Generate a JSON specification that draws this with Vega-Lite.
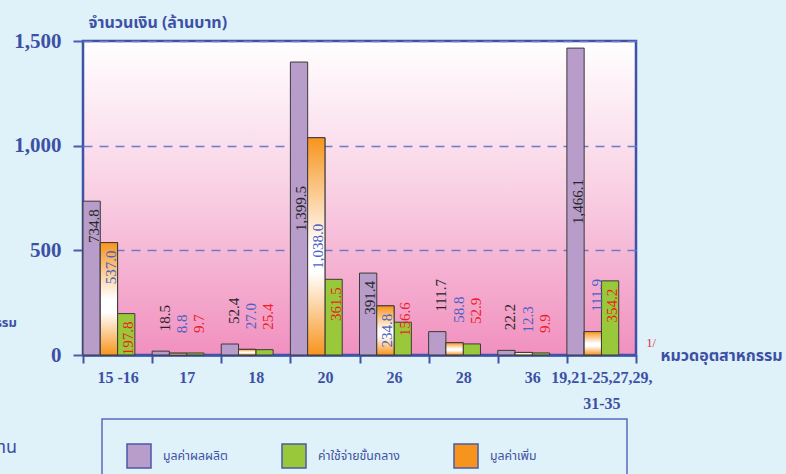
{
  "$schema": "https://vega.github.io/schema/vega-lite/v6.json",
  "width": 553,
  "height": 314,
  "autosize": {"type": "none"},
  "padding": {"left": 83, "top": 41, "right": 150, "bottom": 119},
  "background": "#dff1f9",
  "title": {
    "text": "หมวดอุตสาหกรรม",
    "subtitle": "ค่าจ้างแรงงาน",
    "orient": "top",
    "anchor": "start",
    "frame": "group",
    "align": "right",
    "baseline": "middle",
    "dx": -66,
    "dy": 453,
    "fontSize": 13,
    "fontWeight": "bold",
    "color": "#3c50a5",
    "subtitleFontSize": 18,
    "subtitleColor": "#3c50a5",
    "subtitlePadding": 112
  },
  "config": {
    "font": "Noto Sans Thai, Loma, Garuda, Noto Sans, sans-serif",
    "view": {
      "fill": {"gradient": "linear", "x1": 0, "y1": 0, "x2": 0, "y2": 1,
        "stops": [{"offset": 0, "color": "#ffffff"}, {"offset": 0.45, "color": "#f9d3e5"}, {"offset": 1, "color": "#f190bf"}]},
      "stroke": "#3e52a8",
      "strokeWidth": 2.5
    },
    "legend": {
      "orient": "none",
      "legendX": 19,
      "legendY": 378,
      "direction": "horizontal",
      "columns": 3,
      "symbolType": "square",
      "symbolSize": 576,
      "symbolStrokeColor": "#4a5aa8",
      "symbolStrokeWidth": 1.5,
      "symbolOpacity": 1,
      "labelFontSize": 12.3,
      "labelColor": "#3f51a3",
      "labelOffset": 11,
      "labelLimit": 0,
      "columnPadding": 51,
      "padding": 24,
      "strokeColor": "#5a6ac0",
      "strokeWidth": 1.5,
      "titleOrient": "right",
      "titlePadding": 66
    }
  },
  "data": {
    "values": [
      {"cat": "15 -16", "series": "มูลค่าผลผลิต", "value": 734.8},
      {"cat": "15 -16", "series": "มูลค่าเพิ่ม", "value": 537.0},
      {"cat": "15 -16", "series": "ค่าใช้จ่ายขั้นกลาง", "value": 197.8},
      {"cat": "17", "series": "มูลค่าผลผลิต", "value": 18.5},
      {"cat": "17", "series": "มูลค่าเพิ่ม", "value": 8.8},
      {"cat": "17", "series": "ค่าใช้จ่ายขั้นกลาง", "value": 9.7},
      {"cat": "18", "series": "มูลค่าผลผลิต", "value": 52.4},
      {"cat": "18", "series": "มูลค่าเพิ่ม", "value": 27.0},
      {"cat": "18", "series": "ค่าใช้จ่ายขั้นกลาง", "value": 25.4},
      {"cat": "20", "series": "มูลค่าผลผลิต", "value": 1399.5},
      {"cat": "20", "series": "มูลค่าเพิ่ม", "value": 1038.0},
      {"cat": "20", "series": "ค่าใช้จ่ายขั้นกลาง", "value": 361.5},
      {"cat": "26", "series": "มูลค่าผลผลิต", "value": 391.4},
      {"cat": "26", "series": "มูลค่าเพิ่ม", "value": 234.8},
      {"cat": "26", "series": "ค่าใช้จ่ายขั้นกลาง", "value": 156.6},
      {"cat": "28", "series": "มูลค่าผลผลิต", "value": 111.7},
      {"cat": "28", "series": "มูลค่าเพิ่ม", "value": 58.8},
      {"cat": "28", "series": "ค่าใช้จ่ายขั้นกลาง", "value": 52.9},
      {"cat": "36", "series": "มูลค่าผลผลิต", "value": 22.2},
      {"cat": "36", "series": "มูลค่าเพิ่ม", "value": 12.3},
      {"cat": "36", "series": "ค่าใช้จ่ายขั้นกลาง", "value": 9.9},
      {"cat": "19,21-25,27,29,31-35", "series": "มูลค่าผลผลิต", "value": 1466.1},
      {"cat": "19,21-25,27,29,31-35", "series": "มูลค่าเพิ่ม", "value": 111.9},
      {"cat": "19,21-25,27,29,31-35", "series": "ค่าใช้จ่ายขั้นกลาง", "value": 354.2}
    ]
  },
  "encoding": {
    "x": {
      "field": "cat", "type": "nominal",
      "sort": ["15 -16", "17", "18", "20", "26", "28", "36", "19,21-25,27,29,31-35"],
      "scale": {"paddingInner": 0, "paddingOuter": 0},
      "axis": {
        "title": "หมวดอุตสาหกรรม",
        "tickBand": "extent",
        "tickSize": 8,
        "tickWidth": 2,
        "tickColor": "#3e52a8",
        "domainColor": "#3e52a8",
        "domainWidth": 2.5,
        "labelAngle": 0,
        "labelFont": "Liberation Serif",
        "labelFontSize": 16,
        "labelFontWeight": "bold",
        "labelColor": "#3c50a5",
        "labelPadding": 6,
        "labelLimit": 0,
        "labelLineHeight": 26,
        "labelExpr": "datum.value == '19,21-25,27,29,31-35' ? ['19,21-25,27,29,', '31-35'] : datum.label",
        "titleX": 577,
        "titleY": 0,
        "titleAlign": "left",
        "titleBaseline": "middle",
        "titleFontSize": 16,
        "titleFontWeight": "bold",
        "titleColor": "#3c50a5"
      }
    },
    "xOffset": {
      "field": "series", "type": "nominal",
      "scale": {"domain": ["มูลค่าผลผลิต", "มูลค่าเพิ่ม", "ค่าใช้จ่ายขั้นกลาง", "_"], "paddingInner": 0, "paddingOuter": 0}
    }
  },
  "resolve": {"scale": {"y": "independent", "color": "independent"}},
  "layer": [
    {
      "mark": {"type": "bar", "stroke": "#3a3a3a", "strokeWidth": 1},
      "encoding": {
        "y": {
          "field": "value", "type": "quantitative",
          "scale": {"domain": [0, 1500], "nice": false},
          "axis": {
            "title": "จำนวนเงิน (ล้านบาท)",
            "values": [0, 500, 1000, 1500],
            "format": ",.0f",
            "labelFont": "Liberation Serif",
            "labelFontSize": 21,
            "labelFontWeight": "bold",
            "labelColor": "#3c50a5",
            "labelPadding": 12,
            "tickSize": 10,
            "tickColor": "#4a5cb0",
            "tickWidth": 2,
            "domain": false,
            "grid": true,
            "gridColor": "#6a7bc9",
            "gridDash": [9, 7],
            "gridWidth": 1.3,
            "titleAngle": 0,
            "titleX": 5,
            "titleY": -19,
            "titleAlign": "left",
            "titleBaseline": "middle",
            "titleFontSize": 16,
            "titleFontWeight": "bold",
            "titleColor": "#3c50a5"
          }
        },
        "color": {
          "field": "series", "type": "nominal",
          "scale": {"domain": ["มูลค่าผลผลิต", "ค่าใช้จ่ายขั้นกลาง", "มูลค่าเพิ่ม"], "range": ["#b89cc9", "#99c93b", "#f7941d"]},
          "legend": {"title": " "}
        }
      }
    },
    {
      "transform": [{"filter": "datum.series == 'มูลค่าเพิ่ม'"}],
      "mark": {"type": "bar", "stroke": "#3a3a3a", "strokeWidth": 1,
        "fill": {"gradient": "linear", "x1": 0, "y1": 0, "x2": 0, "y2": 1,
          "stops": [{"offset": 0, "color": "#f7941d"}, {"offset": 0.5, "color": "#ffffff"}, {"offset": 0.62, "color": "#ffffff"}, {"offset": 1, "color": "#f7941d"}]}},
      "encoding": {
        "y": {"field": "value", "type": "quantitative", "scale": {"domain": [0, 1500], "nice": false}, "axis": null}
      }
    },
    {
      "transform": [{"filter": "datum.value >= 1000"}],
      "mark": {"type": "text", "angle": 270, "align": "center", "baseline": "middle", "dy": 2, "font": "Liberation Serif", "fontSize": 15},
      "encoding": {
        "y": {"field": "value", "type": "quantitative", "scale": {"domain": [0, 3000], "nice": false},
          "axis": {"orient": "right", "title": "1/", "labels": false, "ticks": false, "domain": false, "grid": false,
            "titleAngle": 0, "titleX": 10, "titleY": 301, "titleAlign": "left", "titleBaseline": "middle",
            "titleFont": "Liberation Serif", "titleFontSize": 12, "titleFontWeight": "normal", "titleColor": "#e0262b"}},
        "text": {"field": "value", "type": "quantitative", "format": ",.1f"},
        "color": {"field": "series", "type": "nominal", "legend": null,
          "scale": {"domain": ["มูลค่าผลผลิต", "มูลค่าเพิ่ม", "ค่าใช้จ่ายขั้นกลาง"], "range": ["#262626", "#4a62c4", "#ee1c24"]}}
      }
    },
    {
      "transform": [{"filter": "datum.value >= 190 && datum.value < 1000"}],
      "mark": {"type": "text", "angle": 270, "align": "right", "baseline": "middle", "dx": -8, "dy": 2, "font": "Liberation Serif", "fontSize": 15},
      "encoding": {
        "y": {"field": "value", "type": "quantitative", "scale": {"domain": [0, 1500], "nice": false}, "axis": null},
        "text": {"field": "value", "type": "quantitative", "format": ",.1f"},
        "color": {"field": "series", "type": "nominal", "legend": null,
          "scale": {"domain": ["มูลค่าผลผลิต", "มูลค่าเพิ่ม", "ค่าใช้จ่ายขั้นกลาง"], "range": ["#262626", "#4a62c4", "#ee1c24"]}}
      }
    },
    {
      "transform": [{"filter": "datum.value >= 150 && datum.value < 190"}],
      "mark": {"type": "text", "angle": 270, "align": "right", "baseline": "middle", "dx": 20, "dy": 2, "font": "Liberation Serif", "fontSize": 15},
      "encoding": {
        "y": {"field": "value", "type": "quantitative", "scale": {"domain": [0, 1500], "nice": false}, "axis": null},
        "text": {"field": "value", "type": "quantitative", "format": ",.1f"},
        "color": {"field": "series", "type": "nominal", "legend": null,
          "scale": {"domain": ["มูลค่าผลผลิต", "มูลค่าเพิ่ม", "ค่าใช้จ่ายขั้นกลาง"], "range": ["#262626", "#4a62c4", "#ee1c24"]}}
      }
    },
    {
      "transform": [{"filter": "datum.value < 150"}],
      "mark": {"type": "text", "angle": 270, "align": "left", "baseline": "middle", "dx": 20, "dy": 4, "font": "Liberation Serif", "fontSize": 15},
      "encoding": {
        "y": {"field": "value", "type": "quantitative", "scale": {"domain": [0, 1500], "nice": false}, "axis": null},
        "text": {"field": "value", "type": "quantitative", "format": ",.1f"},
        "color": {"field": "series", "type": "nominal", "legend": null,
          "scale": {"domain": ["มูลค่าผลผลิต", "มูลค่าเพิ่ม", "ค่าใช้จ่ายขั้นกลาง"], "range": ["#262626", "#4a62c4", "#ee1c24"]}}
      }
    }
  ]
}
